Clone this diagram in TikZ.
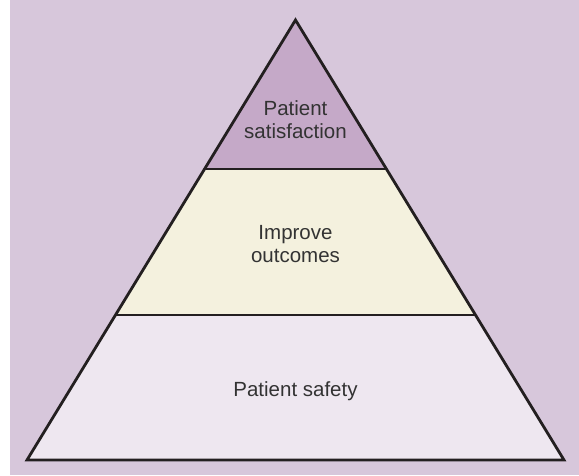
\documentclass[tikz,border=0pt]{standalone}
\usepackage{fontspec}
\setmainfont{Liberation Sans}
\usetikzlibrary{calc}
\definecolor{bgpurple}{HTML}{D7C7DB}
\definecolor{toppurple}{HTML}{C5A9C8}
\definecolor{midcream}{HTML}{F4F1DE}
\definecolor{botlilac}{HTML}{EEE7F0}
\definecolor{edge}{HTML}{231F20}
\definecolor{txt}{HTML}{333333}
\tikzset{
  tier/.style={line width=2.8pt, draw=edge, line join=miter},
  label/.style={text=txt, align=center, inner sep=0pt,
    font=\fontsize{20.5}{23}\selectfont}
}
\begin{document}
\begin{tikzpicture}[x=1pt,y=-1pt]
\useasboundingbox (0,0) rectangle (579,475);
\fill[bgpurple] (10,0) rectangle (579,475);
\coordinate (apex) at (295.5,20);
\coordinate (bl) at (27,460);
\coordinate (br) at (564,460);
\coordinate (l1) at ($(apex)!149/440!(bl)$);
\coordinate (r1) at ($(apex)!149/440!(br)$);
\coordinate (l2) at ($(apex)!295/440!(bl)$);
\coordinate (r2) at ($(apex)!295/440!(br)$);
\fill[toppurple] (apex) -- (r1) -- (l1) -- cycle;
\fill[midcream] (l1) -- (r1) -- (r2) -- (l2) -- cycle;
\fill[botlilac] (l2) -- (r2) -- (br) -- (bl) -- cycle;
\draw[tier] (apex) -- (br) -- (bl) -- cycle;
\draw[tier] (l1) -- (r1);
\draw[tier] (l2) -- (r2);
\node[label, anchor=base] (sat) at (295.5,138) {Patient\\satisfaction};
\node[label, anchor=base] (out) at (295.5,262.5) {Improve\\outcomes};
\node[label, anchor=base] (saf) at (295.5,396) {Patient safety};
\end{tikzpicture}
\end{document}
